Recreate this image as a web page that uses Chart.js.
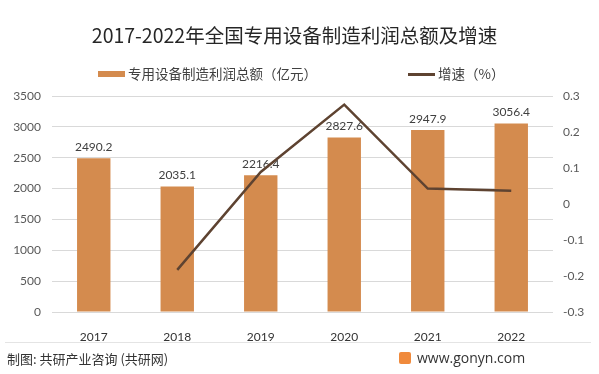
<!DOCTYPE html>
<html>
<head>
<meta charset="utf-8">
<script src="https://cdn.jsdelivr.net/npm/chart.js@4/dist/chart.umd.min.js"></script>
<style>
  body { margin: 0; background: #fff; }
  #wrap { position: relative; width: 599px; height: 374px; overflow: hidden; font-family: "Noto Sans CJK SC", sans-serif; }
  #chart { position: absolute; left: 0; top: 0; }
  .title { position: absolute; left: -5px; width: 599px; top: 20px; text-align: center; font-size: 19.5px; color: #262626; }
  .leg { position: absolute; top: 64px; height: 18px; line-height: 18px; font-size: 13.5px; color: #404040; white-space: nowrap; }
  .leg i { display: inline-block; vertical-align: middle; margin-right: 3px; position: relative; top: -1px; }
  .foot { position: absolute; top: 349px; font-size: 13px; color: #333; }
  .rule { position: absolute; left: 5px; width: 586px; top: 342px; height: 1px; background: #e4e4e4; }
  .logo { display: inline-block; width: 12px; height: 12px; background: #f08a3c; border-radius: 2px; vertical-align: middle; margin-right: 6px; position: relative; top: -1px; }
</style>
</head>
<body>
<div id="wrap">
  <canvas id="chart" width="599" height="374"></canvas>
  <div class="title">2017-2022年全国专用设备制造利润总额及增速</div>
  <div class="leg" style="left:98px"><i style="width:27px;height:6px;background:#D48B4E"></i>专用设备制造利润总额（亿元）</div>
  <div class="leg" style="left:408px"><i style="width:27px;height:3px;background:#5E4331"></i>增速（%）</div>
  <div class="rule"></div>
  <div class="foot" style="left:7px">制图: 共研产业咨询 (共研网)</div>
  <div class="foot" style="left:399px;font-family:'Open Sans',sans-serif;font-size:14px;top:348px"><span class="logo"></span>www.gonyn.com</div>
</div>
<script>
  var years = ['2017', '2018', '2019', '2020', '2021', '2022'];
  var profit = [2490.2, 2035.1, 2216.4, 2827.6, 2947.9, 3056.4];
  var growth = [null, -0.183, 0.089, 0.276, 0.043, 0.037];

  var tickFont = { family: 'Lato, "Noto Sans", sans-serif', size: 12 };

  // 柱顶数值标签（画在柱子之后、折线之前）
  var barLabels = {
    id: 'barLabels',
    afterDatasetDraw: function (chart, args) {
      if (args.index !== 1) return;
      var ctx = chart.ctx;
      ctx.save();
      ctx.font = '12px Lato, "Noto Sans", sans-serif';
      ctx.fillStyle = '#404040';
      ctx.textAlign = 'center';
      ctx.textBaseline = 'bottom';
      args.meta.data.forEach(function (bar, i) {
        ctx.fillText(profit[i].toFixed(1), bar.x, bar.y - 5);
      });
      ctx.restore();
    }
  };

  new Chart(document.getElementById('chart').getContext('2d'), {
    data: {
      labels: years,
      datasets: [
        {
          type: 'line',
          label: '增速（%）',
          data: growth,
          yAxisID: 'y1',
          borderColor: '#5E4331',
          borderWidth: 2.5,
          pointRadius: 0,
          tension: 0,
          order: 0
        },
        {
          type: 'bar',
          label: '专用设备制造利润总额（亿元）',
          data: profit,
          yAxisID: 'y',
          backgroundColor: '#D48B4E',
          categoryPercentage: 1,
          barPercentage: 0.4,
          order: 1
        }
      ]
    },
    options: {
      responsive: false,
      animation: false,
      layout: { padding: { top: 96, bottom: 32, left: 0, right: 0 } },
      plugins: { legend: { display: false }, tooltip: { enabled: false } },
      scales: {
        x: {
          grid: { display: false },
          border: { display: false },
          ticks: { font: tickFont, color: '#333', padding: 10 },
          afterFit: function (s) { s.height = 30; }
        },
        y: {
          position: 'left',
          min: 0,
          max: 3500,
          ticks: {
            stepSize: 500, font: tickFont, color: '#595959', padding: 11,
            callback: function (v) { return String(v); }
          },
          grid: { color: '#d9d9d9', drawTicks: false },
          border: { display: false },
          afterFit: function (s) { s.width = 52; }
        },
        y1: {
          position: 'right',
          min: -0.3,
          max: 0.3,
          ticks: {
            stepSize: 0.1, font: tickFont, color: '#595959', padding: 10,
            callback: function (v) { return String(Math.round(v * 10) / 10); }
          },
          grid: { display: false, drawTicks: false },
          border: { display: false },
          afterFit: function (s) { s.width = 46; }
        }
      }
    },
    plugins: [barLabels]
  });
</script>
</body>
</html>
